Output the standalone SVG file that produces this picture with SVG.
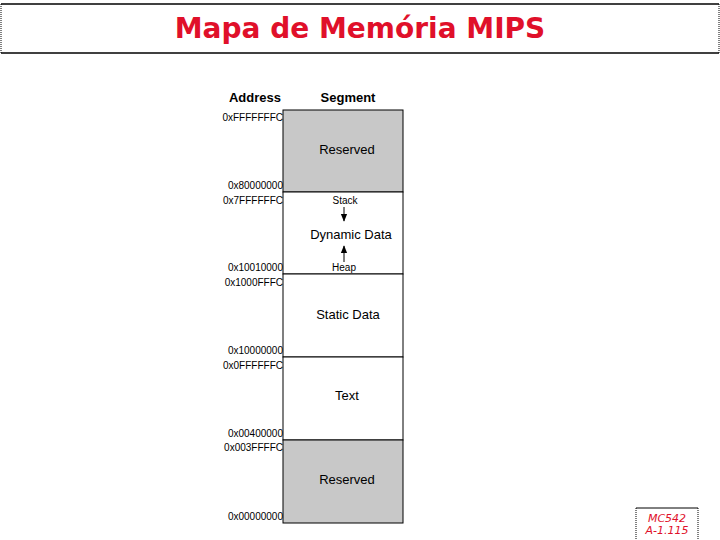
<svg xmlns="http://www.w3.org/2000/svg" width="720" height="540" viewBox="0 0 720 540">
<style>
.a{font-family:"Liberation Sans",Arial,sans-serif;font-size:10px;fill:#000;text-anchor:end}
.h{font-family:"Liberation Sans",Arial,sans-serif;font-size:13px;font-weight:bold;fill:#000;text-anchor:middle}
.s{font-family:"Liberation Sans",Arial,sans-serif;font-size:13px;fill:#000;text-anchor:middle}
.sm{font-family:"Liberation Sans",Arial,sans-serif;font-size:10px;fill:#000;text-anchor:middle}
.seg{stroke:#000;stroke-width:1}
.r{font-family:"Comic Sans MS","DejaVu Sans",sans-serif;fill:#e0102a}
</style>
<defs><marker id="ar" viewBox="0 0 10 10" refX="9" refY="5" markerWidth="8" markerHeight="8" markerUnits="userSpaceOnUse" orient="auto"><path d="M0,1L10,5L0,9z" fill="#000"/></marker></defs>
<rect width="720" height="540" fill="#fff"/>
<g id="title">
<line x1="1" y1="4" x2="719" y2="4" stroke="#000" stroke-width="1.5"/>
<line x1="1" y1="53" x2="719" y2="53" stroke="#000" stroke-width="1.5"/>
<line x1="1" y1="4" x2="1" y2="53" stroke="#000" stroke-dasharray="1,1"/>
<line x1="719" y1="4" x2="719" y2="53" stroke="#000" stroke-dasharray="1,1"/>
<text x="360" y="38" text-anchor="middle" class="r" font-size="28" font-weight="bold">Mapa de Memória MIPS</text>
</g>
<text x="255" y="102" class="h">Address</text>
<text x="348" y="102" class="h">Segment</text>
<g id="reserved-top"><rect x="283" y="110" width="120" height="82" fill="#c8c8c8" class="seg"/><text x="347" y="154" class="s">Reserved</text></g>
<g id="dynamic"><rect x="283" y="192" width="120" height="82" fill="#fff" class="seg"/><text x="345" y="204" class="sm">Stack</text><text x="351" y="239" class="s">Dynamic Data</text><text x="344" y="271" class="sm">Heap</text></g>
<g id="static"><rect x="283" y="274" width="120" height="83" fill="#fff" class="seg"/><text x="348" y="319" class="s">Static Data</text></g>
<g id="text"><rect x="283" y="357" width="120" height="83" fill="#fff" class="seg"/><text x="347" y="400" class="s">Text</text></g>
<g id="reserved-bottom"><rect x="283" y="440" width="120" height="83" fill="#c8c8c8" class="seg"/><text x="347" y="484" class="s">Reserved</text></g>
<g id="connectors">
<line x1="344" y1="207" x2="344" y2="221" stroke="#000" marker-end="url(#ar)"/>
<line x1="344" y1="262" x2="344" y2="246" stroke="#000" marker-end="url(#ar)"/>
</g>
<g id="addresses">
<text x="283" y="121" class="a">0xFFFFFFFC</text>
<text x="283" y="189" class="a">0x80000000</text>
<text x="283" y="204" class="a">0x7FFFFFFC</text>
<text x="283" y="271" class="a">0x10010000</text>
<text x="283" y="286" class="a">0x1000FFFC</text>
<text x="283" y="354" class="a">0x10000000</text>
<text x="283" y="369" class="a">0x0FFFFFFC</text>
<text x="283" y="437" class="a">0x00400000</text>
<text x="283" y="451" class="a">0x003FFFFC</text>
<text x="283" y="520" class="a">0x00000000</text>
</g>
<g id="footer">
<line x1="636" y1="508" x2="698" y2="508" stroke="#000"/>
<line x1="636" y1="508" x2="636" y2="540" stroke="#000" stroke-dasharray="1,1"/>
<line x1="698" y1="508" x2="698" y2="540" stroke="#000" stroke-dasharray="1,1"/>
<text x="667" y="522" text-anchor="middle" class="r" font-size="11" font-style="italic">MC542</text>
<text x="667" y="534" text-anchor="middle" class="r" font-size="11" font-style="italic">A-1.115</text>
</g>
</svg>
